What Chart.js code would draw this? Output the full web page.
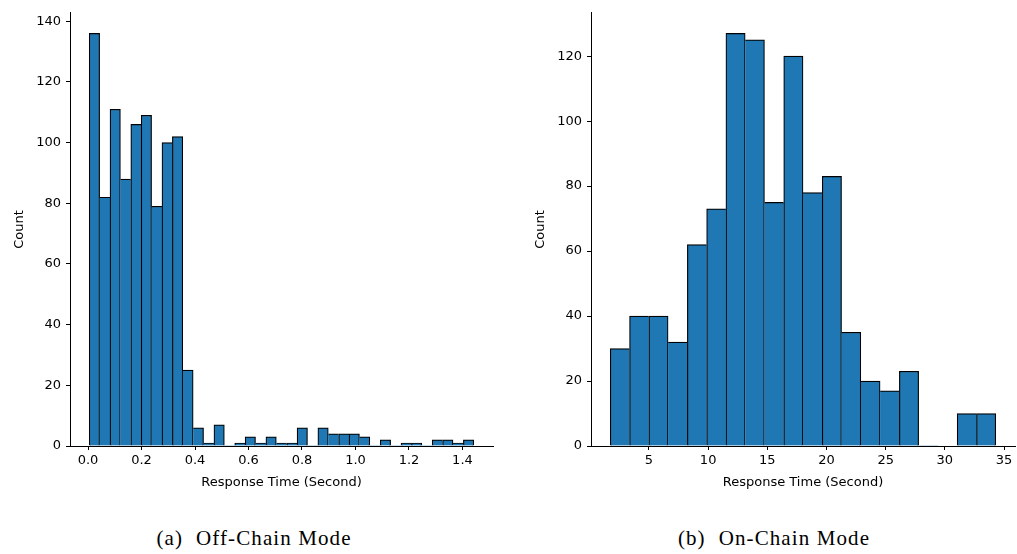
<!DOCTYPE html>
<html>
<head>
<meta charset="utf-8">
<script src="https://cdn.jsdelivr.net/npm/chart.js@4.4.1/dist/chart.umd.min.js"></script>
<style>
  body { margin: 0; background: #fff; width: 1017px; height: 554px; position: relative; overflow: hidden; }
  canvas { position: absolute; top: 0; }
  .cap {
    position: absolute; top: 528px; width: 300px; text-align: center;
    font-family: "Liberation Serif", serif; font-size: 21px; line-height: 20px;
    letter-spacing: 1.1px; color: #000;
  }
  .cap span { display: inline-block; width: 13px; }
</style>
</head>
<body>
<canvas id="offChain" width="505" height="500" style="left:0"></canvas>
<canvas id="onChain" width="507" height="500" style="left:510px"></canvas>
<div class="cap" style="left:104px">(a)<span></span>Off-Chain Mode</div>
<div class="cap" style="left:624px">(b)<span></span>On-Chain Mode</div>

<script>
// histogram counts (37 bins / 20 bins)
const offChainCounts = [136, 82, 111, 88, 106, 109, 79, 100, 102, 25,
                        6, 1, 7, 0, 1, 3, 1, 3, 1, 1,
                        6, 0, 6, 4, 4, 4, 3, 0, 2, 0,
                        1, 1, 0, 2, 2, 1, 2];
const offChainRange = [0.0045, 1.4423];   // first / last bin edge (seconds)
const offChainXTicks = [0, 0.2, 0.4, 0.6, 0.8, 1.0, 1.2, 1.4];
const offChainYTicks = [0, 20, 40, 60, 80, 100, 120, 140];

const onChainCounts = [30, 40, 40, 32, 62, 73, 127, 125, 75, 120,
                       78, 83, 35, 20, 17, 23, 0, 0, 10, 10];
const onChainRange = [1.73, 34.3];
const onChainXTicks = [5, 10, 15, 20, 25, 30, 35];
const onChainYTicks = [0, 20, 40, 60, 80, 100, 120];

const font = { family: 'DejaVu Sans', size: 13 };

function drawHist(id, counts, range, xTicks, yTicks, decimals, yAxisWidth, yTitlePad, padRight) {
    const lo = range[0], hi = range[1];
    const w = (hi - lo) / counts.length;
    const points = counts.map((c, i) => ({ x: lo + (i + 0.5) * w, y: c }));
    const margin = 0.05 * (hi - lo);

    // only one edge line between neighbours, owned by the taller bar
    const edges = ctx => {
        const i = ctx.dataIndex;
        const h = counts[i];
        const prev = i > 0 ? counts[i - 1] : -1;
        const next = i < counts.length - 1 ? counts[i + 1] : -1;
        return { top: 1.2, bottom: 0, left: h >= prev ? 1.2 : 0, right: h > next ? 1.2 : 0 };
    };

    const axisLook = {
        grid: { display: true, offset: false, drawOnChartArea: false, drawTicks: true, tickLength: 4, color: '#000', lineWidth: 1 },
        border: { display: true, color: '#000', width: 1 }
    };

    new Chart(document.getElementById(id), {
        type: 'bar',
        data: {
            datasets: [{
                data: points,
                backgroundColor: '#1f77b4',
                borderColor: '#000',
                borderWidth: edges,
                borderSkipped: false,
                barPercentage: 1,
                categoryPercentage: 1
            }]
        },
        options: {
            responsive: false,
            animation: false,
            layout: { padding: { top: 9, right: padRight, bottom: 0, left: 0 } },
            plugins: { legend: { display: false }, tooltip: { enabled: false } },
            scales: {
                x: {
                    type: 'linear',
                    offset: false,
                    min: lo - margin,
                    max: hi + margin,
                    ...axisLook,
                    afterBuildTicks: s => { s.ticks = xTicks.map(v => ({ value: v })); },
                    afterFit: s => { s.height = 54; },
                    ticks: { font: font, color: '#000', padding: 3, callback: v => v.toFixed(decimals) },
                    title: { display: true, text: 'Response Time (Second)', font: font, color: '#000', padding: { top: 0, bottom: 10 } }
                },
                y: {
                    min: 0,
                    max: Math.max(...counts) * 1.05,
                    ...axisLook,
                    afterBuildTicks: s => { s.ticks = yTicks.map(v => ({ value: v })); },
                    afterFit: s => { s.width = yAxisWidth; },
                    ticks: { font: font, color: '#000', padding: 5 },
                    title: { display: true, text: 'Count', font: font, color: '#000', padding: { top: yTitlePad, bottom: 0 } }
                }
            }
        }
    });
}

drawHist('offChain', offChainCounts, offChainRange, offChainXTicks, offChainYTicks, 1, 70, 12, 12);
drawHist('onChain', onChainCounts, onChainRange, onChainXTicks, onChainYTicks, 0, 81, 23, 2);
</script>
</body>
</html>
